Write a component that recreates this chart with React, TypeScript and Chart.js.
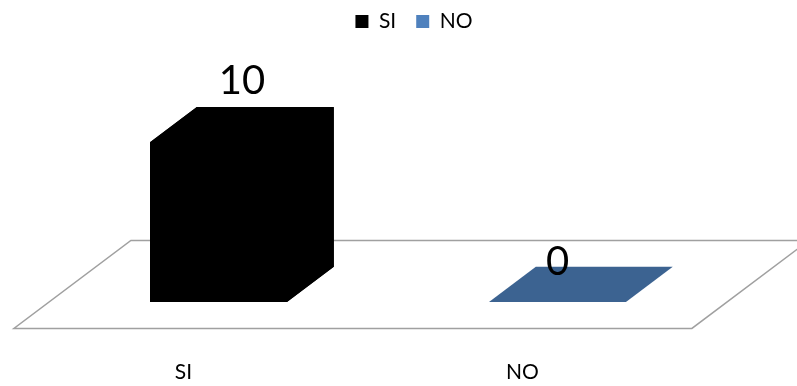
import { useEffect, useRef } from "react";
import { Chart, registerables } from "chart.js";

Chart.register(...registerables);

// Data
const categories: string[] = ["SI", "NO"];
const values: number[] = [10, 0];
const seriesColors: string[] = ["#000000", "#4F81BD"];
const topColors: string[] = ["#000000", "#3C6391"];
const sideColors: string[] = ["#000000", "#375C88"];

// Floor depth vector in pixels and where the boxes sit inside that depth
const FLOOR_DX = 117;
const FLOOR_DY = -88;
const BOX_FRONT = 0.3;
const BOX_BACK = 0.7;

const FONT = "Lato, 'Open Sans', sans-serif";
const LEGEND_SHIFT_X = 26;
const LEGEND_SHIFT_Y = -9;

const threeD = {
  id: "threeD",
  afterLayout(chart: any) {
    if (chart.legend) {
      chart.legend.left += LEGEND_SHIFT_X;
      chart.legend.right += LEGEND_SHIFT_X;
      chart.legend.top += LEGEND_SHIFT_Y;
      chart.legend.bottom += LEGEND_SHIFT_Y;
    }
  },
  beforeDatasetsDraw(chart: any) {
    const { ctx, chartArea, scales } = chart;
    const { left, right, bottom } = chartArea;
    const fX = -BOX_FRONT * FLOOR_DX;
    const fY = -BOX_FRONT * FLOOR_DY;
    const bX = (1 - BOX_FRONT) * FLOOR_DX;
    const bY = (1 - BOX_FRONT) * FLOOR_DY;
    ctx.save();
    // floor plane
    ctx.beginPath();
    ctx.moveTo(left + fX, bottom + fY);
    ctx.lineTo(right + fX, bottom + fY);
    ctx.lineTo(right + bX, bottom + bY);
    ctx.lineTo(left + bX, bottom + bY);
    ctx.closePath();
    ctx.fillStyle = "#FFFFFF";
    ctx.fill();
    ctx.strokeStyle = "#A0A0A0";
    ctx.lineWidth = 1.5;
    ctx.stroke();
    // category labels along the front edge
    ctx.fillStyle = "#000000";
    ctx.font = `21px ${FONT}`;
    ctx.textAlign = "center";
    ctx.textBaseline = "alphabetic";
    categories.forEach((c, i) => {
      const x = scales.x.getPixelForValue(i) + fX;
      ctx.fillText(c, x, bottom + fY + 51);
    });
    ctx.restore();
  },
  afterDatasetsDraw(chart: any) {
    const { ctx } = chart;
    const meta = chart.getDatasetMeta(0);
    const dx = (BOX_BACK - BOX_FRONT) * FLOOR_DX;
    const dy = (BOX_BACK - BOX_FRONT) * FLOOR_DY;
    ctx.save();
    meta.data.forEach((bar: any, i: number) => {
      const { x, y, base, width } = bar.getProps(["x", "y", "base", "width"], true);
      const l = x - width / 2;
      const r = x + width / 2;
      const top = Math.min(y, base);
      const bot = Math.max(y, base);
      const tall = bot - top > 0.5;
      if (tall) {
        // whole silhouette first so the face seams stay solid
        ctx.beginPath();
        ctx.moveTo(l, bot);
        ctx.lineTo(l, top);
        ctx.lineTo(l + dx, top + dy);
        ctx.lineTo(r + dx, top + dy);
        ctx.lineTo(r + dx, bot + dy);
        ctx.lineTo(r, bot);
        ctx.closePath();
        ctx.fillStyle = seriesColors[i];
        ctx.fill();
        // side face
        ctx.beginPath();
        ctx.moveTo(r, top);
        ctx.lineTo(r + dx, top + dy);
        ctx.lineTo(r + dx, bot + dy);
        ctx.lineTo(r, bot);
        ctx.closePath();
        ctx.fillStyle = sideColors[i];
        ctx.fill();
      }
      // top face
      ctx.beginPath();
      ctx.moveTo(l, top);
      ctx.lineTo(l + dx, top + dy);
      ctx.lineTo(r + dx, top + dy);
      ctx.lineTo(r, top);
      ctx.closePath();
      ctx.fillStyle = topColors[i];
      ctx.fill();
      // value label
      ctx.fillStyle = "#000000";
      ctx.font = `40px ${FONT}`;
      ctx.textAlign = "center";
      const v = values[i];
      if (tall) {
        ctx.textBaseline = "alphabetic";
        ctx.fillText(String(v), x + dx / 2, top + dy - 13);
      } else {
        ctx.textBaseline = "middle";
        ctx.fillText(String(v), x, top + dy - 5);
      }
    });
    ctx.restore();
  },
};

export default function App() {
  const ref = useRef<HTMLCanvasElement | null>(null);

  useEffect(() => {
    if (!ref.current) return;
    const chart = new Chart(ref.current, {
      type: "bar",
      data: {
        labels: categories,
        datasets: [
          {
            data: values,
            backgroundColor: seriesColors.map((c, i) => (i === 0 ? c : topColors[i])),
            borderWidth: 0,
            inflateAmount: 0,
            barPercentage: 0.404,
            categoryPercentage: 1,
          },
        ],
      },
      options: {
        animation: false,
        responsive: false,
        devicePixelRatio: 1,
        layout: { padding: { left: 49, right: 70, top: 0, bottom: 84 } },
        scales: {
          x: { display: false, grid: { display: false } },
          y: { display: false, min: 0, max: 15.7, grid: { display: false } },
        },
        plugins: {
          tooltip: { enabled: false },
          legend: {
            display: true,
            position: "top",
            onClick: () => {},
            labels: {
              boxWidth: 13,
              boxHeight: 13,
              padding: 20,
              color: "#000000",
              font: { family: FONT, size: 21 },
              generateLabels: () =>
                categories.map((c, i) => ({
                  text: c,
                  fillStyle: seriesColors[i],
                  strokeStyle: seriesColors[i],
                  lineWidth: 0,
                  hidden: false,
                  index: i,
                  fontColor: "#000000",
                })),
            },
          },
        },
      },
      plugins: [threeD],
    });
    return () => chart.destroy();
  }, []);

  return (
    <div style={{ position: "absolute", left: 0, top: 0, width: 797, height: 386, background: "#fff" }}>
      <canvas ref={ref} width={797} height={386} style={{ display: "block" }} />
    </div>
  );
}
